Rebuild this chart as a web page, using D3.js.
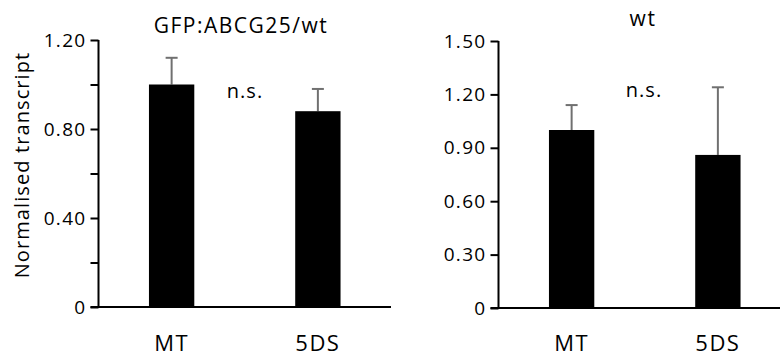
<!DOCTYPE html>
<html>
<head>
  <meta charset="utf-8">
  <script src="https://cdn.jsdelivr.net/npm/d3@7"></script>
  <style>
    body { margin: 0; background: #fff; }
    svg text { font-family: "Open Sans", sans-serif; fill: #000; }
    .domain, .tick line { stroke: #000; stroke-width: 2; }
    .tick text { font-size: 19px; letter-spacing: 1.3px; }
  </style>
</head>
<body>
<script>
  "use strict";
  // data
  var categories = ["MT", "5DS"];
  var leftMeans = [1.00, 0.88];
  var leftErrors = [0.12, 0.10];
  var rightMeans = [1.00, 0.86];
  var rightErrors = [0.14, 0.38];
  var leftTicks = [0, 0.2, 0.4, 0.6, 0.8, 1.0, 1.2];
  var leftTickLabels = ["0", "", "0.40", "", "0.80", "", "1.20"];
  var rightTicks = [0, 0.3, 0.6, 0.9, 1.2, 1.5];
  var rightTickLabels = ["0", "0.30", "0.60", "0.90", "1.20", "1.50"];

  var width = 780, height = 358;
  var svg = d3.select("body").append("svg")
      .attr("width", width)
      .attr("height", height);

  function drawPanel(opt) {
    var g = svg.append("g");
    var x = d3.scaleBand()
        .domain(categories)
        .range([opt.left, opt.left + 292.5])
        .paddingInner(0.69)
        .paddingOuter(0.345);
    var y = d3.scaleLinear()
        .domain([0, opt.max])
        .range([opt.bottom, opt.bottom - 267]);

    // error bars (up only)
    var eb = g.selectAll(".err").data(categories).enter().append("g");
    eb.append("line")
        .attr("x1", function(d) { return x(d) + x.bandwidth() / 2; })
        .attr("x2", function(d) { return x(d) + x.bandwidth() / 2; })
        .attr("y1", function(d, i) { return y(opt.means[i]); })
        .attr("y2", function(d, i) { return y(opt.means[i] + opt.errors[i]); })
        .attr("stroke", "#707070").attr("stroke-width", 2);
    eb.append("line")
        .attr("x1", function(d) { return x(d) + x.bandwidth() / 2 - 6; })
        .attr("x2", function(d) { return x(d) + x.bandwidth() / 2 + 6; })
        .attr("y1", function(d, i) { return y(opt.means[i] + opt.errors[i]); })
        .attr("y2", function(d, i) { return y(opt.means[i] + opt.errors[i]); })
        .attr("stroke", "#707070").attr("stroke-width", 2);

    // bars
    g.selectAll(".bar").data(categories).enter().append("rect")
        .attr("x", function(d) { return x(d); })
        .attr("width", x.bandwidth())
        .attr("y", function(d, i) { return y(opt.means[i]); })
        .attr("height", function(d, i) { return y(0) - y(opt.means[i]); })
        .attr("fill", "#000");

    // y axis
    var yAxis = d3.axisLeft(y)
        .tickValues(opt.ticks)
        .tickSize(8)
        .tickPadding(4)
        .tickFormat(function(d, i) { return opt.tickLabels[i]; });
    var ya = g.append("g")
        .attr("transform", "translate(" + opt.left + ",0)")
        .call(yAxis)
        .attr("font-size", 19)
        .attr("font-family", null);
    ya.select(".domain").attr("d", "M0," + y(opt.max) + "V" + y(0));

    // x axis line
    g.append("line")
        .attr("x1", opt.left - 8)
        .attr("x2", opt.left + 292.5)
        .attr("y1", y(0)).attr("y2", y(0))
        .attr("stroke", "#000").attr("stroke-width", 2);

    // category labels
    g.selectAll(".xlab").data(categories).enter().append("text")
        .attr("x", function(d) { return x(d) + x.bandwidth() / 2; })
        .attr("y", 351)
        .attr("text-anchor", "middle")
        .style("font-size", "22px")
        .style("letter-spacing", "1.5px")
        .text(function(d) { return d; });

    // title
    g.append("text")
        .attr("x", opt.titleX)
        .attr("y", opt.titleY)
        .attr("text-anchor", "middle")
        .style("font-size", "21px")
        .style("letter-spacing", "1.5px")
        .text(opt.title);

    // significance
    g.append("text")
        .attr("x", opt.nsX)
        .attr("y", opt.nsY)
        .attr("text-anchor", "middle")
        .style("font-size", "20px")
        .style("letter-spacing", "1px")
        .text("n.s.");
  }

  drawPanel({ left: 98.5, bottom: 307, max: 1.2, means: leftMeans, errors: leftErrors,
              ticks: leftTicks, tickLabels: leftTickLabels,
              title: "GFP:ABCG25/wt", titleX: 241, titleY: 33,
              nsX: 245, nsY: 98 });
  drawPanel({ left: 498.5, bottom: 308, max: 1.5, means: rightMeans, errors: rightErrors,
              ticks: rightTicks, tickLabels: rightTickLabels,
              title: "wt", titleX: 643, titleY: 26,
              nsX: 644, nsY: 97 });

  // y axis title
  svg.append("text")
      .attr("transform", "translate(29,165) rotate(-90)")
      .attr("text-anchor", "middle")
      .style("font-size", "20px")
      .style("letter-spacing", "1.1px")
      .text("Normalised transcript");
</script>
</body>
</html>
